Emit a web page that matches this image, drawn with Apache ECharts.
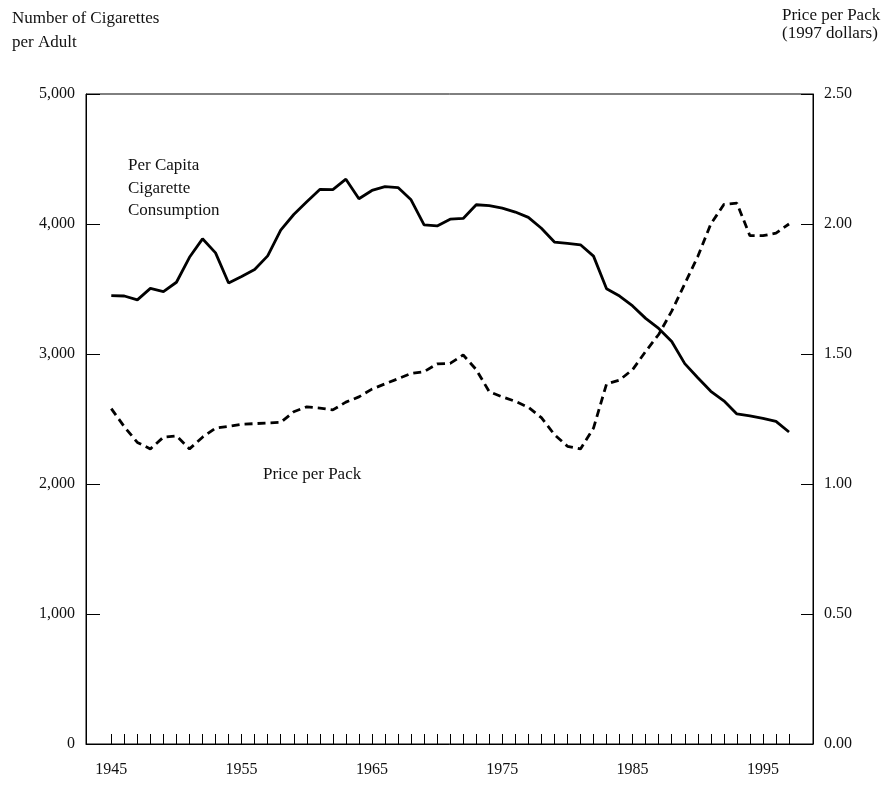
<!DOCTYPE html>
<html>
<head>
<meta charset="utf-8">
<script src="https://cdn.jsdelivr.net/npm/echarts@6/dist/echarts.min.js"></script>
<style>
html,body{margin:0;padding:0;background:#fff;}
#chart{width:892px;height:785px;}
</style>
</head>
<body>
<div id="chart"></div>
<script>
var years = [1945,1946,1947,1948,1949,1950,1951,1952,1953,1954,1955,1956,1957,1958,1959,1960,1961,1962,1963,1964,1965,1966,1967,1968,1969,1970,1971,1972,1973,1974,1975,1976,1977,1978,1979,1980,1981,1982,1983,1984,1985,1986,1987,1988,1989,1990,1991,1992,1993,1994,1995,1996,1997];
var consumption = [3449,3446,3416,3505,3480,3552,3744,3886,3778,3546,3597,3650,3755,3953,4073,4171,4266,4265,4345,4194,4258,4287,4280,4186,3993,3985,4037,4043,4148,4141,4122,4092,4051,3967,3861,3851,3840,3753,3502,3446,3370,3274,3197,3096,2926,2817,2713,2640,2539,2524,2505,2482,2400];
var price = [1.29,1.22,1.16,1.135,1.18,1.185,1.135,1.18,1.215,1.222,1.23,1.232,1.235,1.237,1.278,1.297,1.292,1.285,1.315,1.335,1.365,1.385,1.405,1.425,1.432,1.462,1.464,1.496,1.44,1.355,1.335,1.318,1.295,1.255,1.19,1.145,1.135,1.215,1.385,1.40,1.44,1.51,1.575,1.665,1.77,1.875,2.0,2.075,2.08,1.955,1.955,1.965,2.0];
var xTickLabels = [1945,1955,1965,1975,1985,1995];
var leftTickLabels = ['0','1,000','2,000','3,000','4,000','5,000'];
var rightTickLabels = ['0.00','0.50','1.00','1.50','2.00','2.50'];

var FONT = 'Liberation Serif';
var TXT = '#111';
var chart = echarts.init(document.getElementById('chart'), null, {renderer:'canvas'});

function pairs(xs, ys){ return xs.map(function(x,i){ return [x, ys[i]]; }); }

var option = {
  animation: false,
  backgroundColor: '#fff',
  grid: {left:86, right:79, top:94, bottom:41, show:true, borderColor:'#000', borderWidth:1, backgroundColor:'transparent'},
  xAxis: {
    type:'value', min:1943.06, max:1998.84,
    axisLine:{show:true, lineStyle:{color:'#000', width:1}},
    axisTick:{show:true, inside:true, length:10, customValues: years, lineStyle:{color:'#000', width:1}},
    axisLabel:{show:true, customValues: xTickLabels, margin:18, fontFamily:FONT, fontSize:16, color:TXT,
      formatter:function(v){ return String(v); }},
    splitLine:{show:false}
  },
  yAxis: [
    {type:'value', position:'left', min:0, max:5000, interval:1000,
     axisLine:{show:true, lineStyle:{color:'#000', width:1}},
     axisTick:{show:true, inside:true, length:14, lineStyle:{color:'#000', width:1}},
     axisLabel:{margin:11, fontFamily:FONT, fontSize:16, color:TXT,
       formatter:function(v){ return leftTickLabels[Math.round(v/1000)]; }},
     splitLine:{show:false}},
    {type:'value', position:'right', min:0, max:2.5, interval:0.5,
     axisLine:{show:true, lineStyle:{color:'#000', width:1}},
     axisTick:{show:true, inside:true, length:12, lineStyle:{color:'#000', width:1}},
     axisLabel:{margin:11, fontFamily:FONT, fontSize:16, color:TXT,
       formatter:function(v){ return rightTickLabels[Math.round(v/0.5)]; }},
     splitLine:{show:false}}
  ],
  series: [
    {name:'Per Capita Cigarette Consumption', type:'line', yAxisIndex:0, data:pairs(years, consumption),
     showSymbol:false, symbol:'none', lineStyle:{color:'#000', width:2.8, type:'solid'}, z:3},
    {name:'Price per Pack', type:'line', yAxisIndex:1, data:pairs(years, price),
     showSymbol:false, symbol:'none', lineStyle:{color:'#000', width:2.8, type:[8,5]}, z:3}
  ],
  graphic: [
    {type:'text', left:12, top:10, style:{text:'Number of Cigarettes', font:'17px "Liberation Serif"', fill:TXT}},
    {type:'text', left:12, top:34, style:{text:'per Adult', font:'17px "Liberation Serif"', fill:TXT}},
    {type:'text', left:782, top:7, style:{text:'Price per Pack', font:'17px "Liberation Serif"', fill:TXT}},
    {type:'text', left:782, top:25, style:{text:'(1997 dollars)', font:'17px "Liberation Serif"', fill:TXT}},
    {type:'text', left:128, top:157, style:{text:'Per Capita', font:'17px "Liberation Serif"', fill:TXT}},
    {type:'text', left:128, top:180, style:{text:'Cigarette', font:'17px "Liberation Serif"', fill:TXT}},
    {type:'text', left:128, top:202, style:{text:'Consumption', font:'17px "Liberation Serif"', fill:TXT}},
    {type:'text', left:263, top:466, style:{text:'Price per Pack', font:'17px "Liberation Serif"', fill:TXT}}
  ]
};
chart.setOption(option);
</script>
</body>
</html>
